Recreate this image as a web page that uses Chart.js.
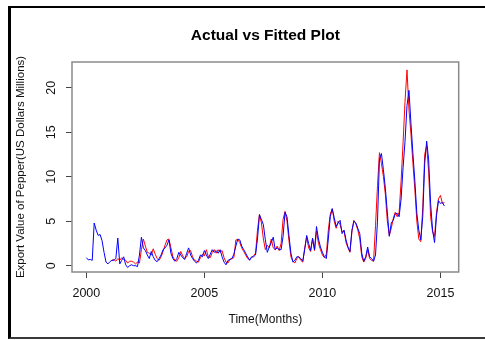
<!DOCTYPE html>
<html>
<head>
<meta charset="utf-8">
<script src="https://cdn.jsdelivr.net/npm/chart.js@4/dist/chart.umd.min.js"></script>
<style>
  html, body { margin: 0; padding: 0; background: #fff; }
  #wrap { position: relative; width: 485px; height: 340px; }
  #frame { position: absolute; left: 8px; top: 6px; width: 477px; height: 333px; box-sizing: border-box;
           border-left: 3px solid #000; border-top: 2px solid #000; border-bottom: 2px solid #3a3a3a; pointer-events: none; }
  canvas { position: absolute; left: 0; top: 0; }
</style>
</head>
<body>
<div id="wrap">
  <canvas id="c" width="485" height="340"></canvas>
  <div id="frame"></div>
</div>
<script>
// Monthly series, starting Jan 2000
const startYear = 2000;
const monthsPerYear = 12;

// Blue series (full length)
const blueSeries = [
  0.9,0.65,0.7,0.6,4.8,4.0,3.4,3.5,2.8,1.5,0.4,0.2,0.45,
  0.6,0.6,0.8,3.1,0.2,0.6,1.0,0.1,-0.2,0.0,0.1,0.0,0.0,-0.1,1.2,
  3.2,2.0,1.7,1.2,0.8,1.6,1.0,0.6,0.45,0.8,1.2,1.8,
  2.0,2.3,2.9,1.4,0.8,0.5,0.8,1.5,1.2,0.9,0.7,1.4,
  2.0,1.2,0.8,0.5,0.3,0.6,1.2,1.0,1.7,1.2,0.8,1.3,
  1.8,1.5,1.7,1.4,1.8,1.0,0.4,0.1,0.6,0.7,0.8,1.3,
  2.2,3.0,2.9,2.2,1.8,1.4,1.0,0.6,1.0,1.0,1.2,3.0,
  5.7,5.2,4.6,2.9,1.5,2.1,2.6,3.2,1.8,2.0,1.8,1.8,
  3.3,6.0,5.5,3.4,1.4,0.4,0.6,1.0,1.0,0.8,0.5,1.8,
  3.4,2.5,1.7,3.1,1.8,4.4,3.0,2.1,1.5,1.0,0.8,3.0,
  5.5,6.4,5.4,4.4,4.8,5.1,3.6,4.0,2.9,2.1,1.6,4.0,
  5.0,4.8,4.2,3.6,1.4,0.5,1.0,2.1,1.0,0.8,0.5,1.2,
  5.0,12.0,12.6,10.8,8.7,6.0,3.3,4.8,5.1,5.8,5.9,5.5,
  7.5,11.0,14.0,18.0,19.7,16.0,12.6,9.5,5.9,4.0,2.9,5.5,
  11.5,14.0,11.9,7.0,4.0,2.6,5.6,7.3,7.0,7.1,6.7
];

// Red series (starts a year later)
const redSeries = [
  null,null,null,null,null,null,null,null,null,null,null,null,null,
  0.6,0.7,0.5,0.8,0.6,0.9,0.7,0.6,0.3,0.5,0.5,0.4,0.2,0.4,0.3,
  1.8,3.0,2.2,1.5,1.4,1.2,1.9,1.3,0.8,0.6,1.0,1.6,
  2.3,2.9,3.0,2.0,1.0,0.6,0.5,0.9,1.6,1.1,0.8,1.0,
  1.6,1.7,1.0,0.6,0.5,0.4,0.9,1.3,1.1,1.8,1.0,0.9,
  1.5,1.8,1.4,1.8,1.5,1.7,0.9,0.4,0.3,0.7,0.8,0.9,
  2.9,2.9,2.6,2.0,1.6,1.2,0.8,0.7,0.9,1.1,1.4,4.0,
  5.8,4.8,3.0,1.8,2.3,2.0,3.0,2.0,1.8,2.2,1.7,2.5,
  5.2,6.1,5.0,2.8,1.0,0.5,0.3,0.8,1.0,0.6,0.4,2.0,
  3.2,2.0,1.6,3.0,1.7,3.9,2.5,1.8,1.2,0.9,1.3,4.0,
  5.8,6.4,5.0,4.2,5.0,4.6,3.8,3.9,2.6,2.0,1.5,3.8,
  5.1,4.7,4.0,3.0,1.0,0.4,0.8,1.8,0.8,0.6,0.5,4.5,
  9.0,12.7,11.5,10.0,8.0,5.0,3.4,4.2,5.3,6.0,5.5,6.0,
  9.5,13.8,18.5,22.0,17.5,14.8,11.5,8.5,5.0,3.0,2.7,6.5,
  12.5,13.5,10.5,5.5,3.8,3.3,6.0,7.5,7.9,7.0,7.1
];

const xTickValues = [2000, 2005, 2010, 2015];
const xTickLabels = ['2000', '2005', '2010', '2015'];
const yTickValues = [0, 5, 10, 15, 20];
const yTickLabels = ['0', '5', '10', '15', '20'];

const toPoints = arr => arr.map((v, i) => ({ x: startYear + i / monthsPerYear, y: v }));

const plotBox = {
  id: 'plotBox',
  afterDatasetsDraw(chart) {
    const a = chart.chartArea, ctx = chart.ctx;
    ctx.save();
    ctx.strokeStyle = '#8a8a8a';
    ctx.lineWidth = 1.5;
    ctx.strokeRect(a.left, a.top, a.right - a.left, a.bottom - a.top);
    ctx.restore();
  }
};

new Chart(document.getElementById('c'), {
  type: 'line',
  data: {
    datasets: [
      { label: 'Red', data: toPoints(redSeries), borderColor: '#ff0000', borderWidth: 1, pointRadius: 0, tension: 0, order: 1, spanGaps: false },
      { label: 'Blue', data: toPoints(blueSeries), borderColor: '#0000ff', borderWidth: 1, pointRadius: 0, tension: 0, order: 0, spanGaps: false }
    ]
  },
  options: {
    responsive: false,
    animation: false,
    layout: { padding: { left: 0, top: 0, right: 26.3, bottom: 0 } },
    plugins: {
      legend: { display: false },
      tooltip: { enabled: false },
      title: {
        display: true, text: 'Actual vs Fitted Plot', fullSize: false,
        color: '#000', font: { family: 'Liberation Sans, Arial, sans-serif', size: 15.5, weight: 'bold' },
        padding: { top: 26.7, bottom: 16.7 }
      }
    },
    scales: {
      x: {
        type: 'linear', min: 1999.393, max: 2015.773,
        afterBuildTicks: s => { s.ticks = xTickValues.map(v => ({ value: v })); },
        afterFit: s => { s.height = 68; },
        border: { display: false },
        grid: { drawOnChartArea: false, drawTicks: true, tickLength: 6, color: '#444' },
        ticks: {
          color: '#111', padding: 7.8, maxRotation: 0, autoSkip: false,
          font: { family: 'Liberation Sans, Arial, sans-serif', size: 12.5 },
          callback: v => xTickLabels[xTickValues.indexOf(v)]
        },
        title: {
          display: true, text: 'Time(Months)', color: '#111',
          font: { family: 'Liberation Sans, Arial, sans-serif', size: 12 },
          padding: { top: 0, bottom: 12.8 }
        }
      },
      y: {
        type: 'linear', min: -0.71, max: 22.89,
        afterBuildTicks: s => { s.ticks = yTickValues.map(v => ({ value: v })); },
        afterFit: s => { s.width = 72; },
        border: { display: false },
        grid: { drawOnChartArea: false, drawTicks: true, tickLength: 6, color: '#444' },
        ticks: {
          color: '#111', padding: 8, minRotation: 90, maxRotation: 90, crossAlign: 'center', autoSkip: false,
          font: { family: 'Liberation Sans, Arial, sans-serif', size: 12.5 },
          callback: v => yTickLabels[yTickValues.indexOf(v)]
        },
        title: {
          display: true, text: 'Export Value of Pepper(US Dollars Millions)', color: '#111',
          font: { family: 'Liberation Sans, Arial, sans-serif', size: 11.5 },
          padding: { top: 14, bottom: 0 }
        }
      }
    }
  },
  plugins: [plotBox]
});
</script>
</body>
</html>
